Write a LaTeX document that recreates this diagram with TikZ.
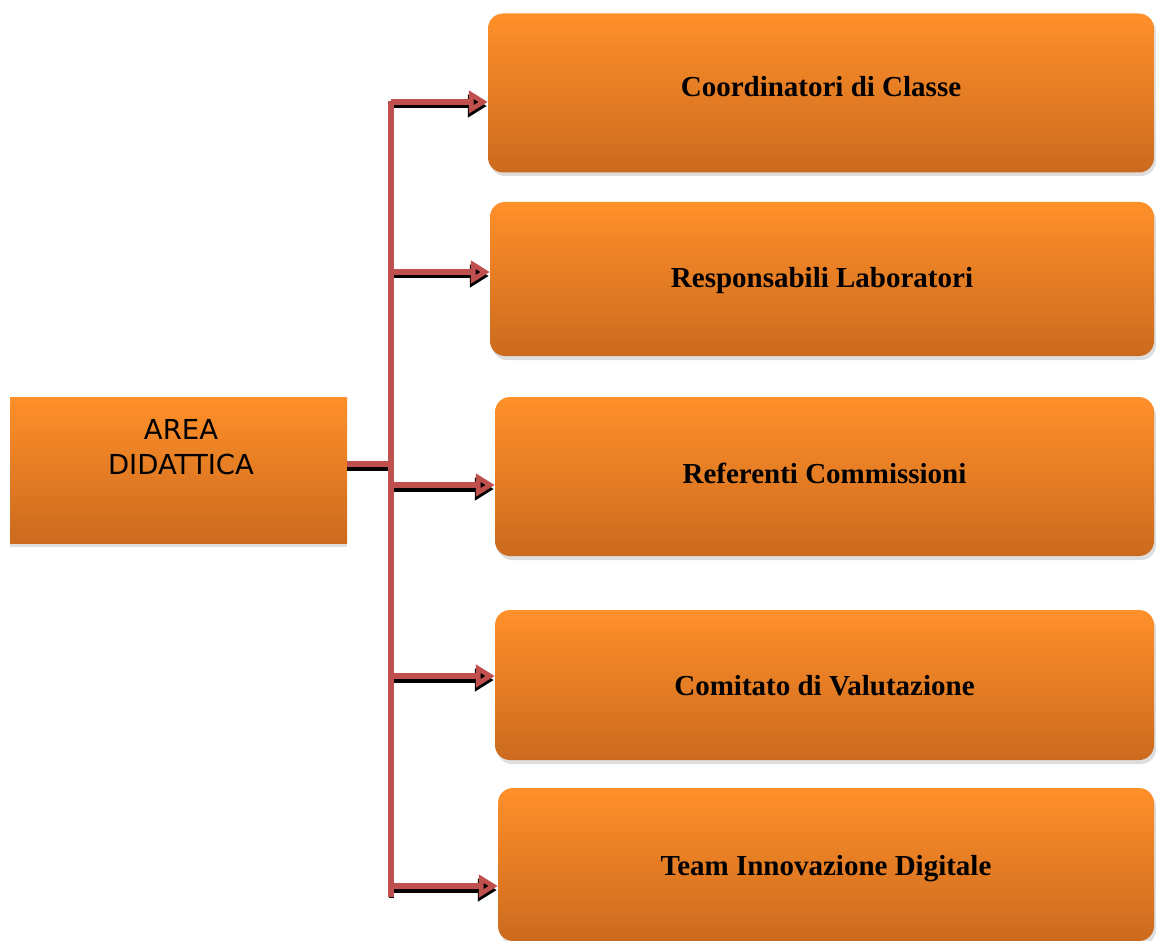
\documentclass[tikz,border=0pt]{standalone}
\usepackage{fontspec}
\setmainfont{Liberation Serif}
\newfontfamily\tahomalike{DejaVu Sans}
\usetikzlibrary{arrows.meta}
\definecolor{otop}{RGB}{255,144,42}
\definecolor{obot}{RGB}{203,106,30}
\definecolor{conn}{RGB}{192,80,77}
\newcommand{\boxtext}[2]{\raisebox{#1}[0pt][0pt]{#2}}
\tikzset{
  rbox/.style={rounded corners=15pt, top color=otop, bottom color=obot, draw=none,
    font=\fontsize{29}{34}\selectfont\bfseries, text=black, inner sep=0pt},
  lbox/.style={top color=otop, bottom color=obot, draw=none, inner sep=0pt},
  shad/.style={fill=black!13, draw=none},
  redline/.style={draw=conn, line width=5.5pt},
  blackline/.style={draw=black, line width=5pt},
  redarr/.style={draw=conn, line width=5.5pt, -{Triangle[open,length=19pt,width=22pt]}},
  blackarr/.style={draw=black, line width=5pt, -{Triangle[length=19pt,width=22pt]}},
}
\begin{document}
\begin{tikzpicture}[x=1pt,y=-1pt]
\useasboundingbox (0,0) rectangle (1156,941);
% shadows
\fill[shad, rounded corners=15pt] (490,17) rectangle (1156,176);
\fill[shad, rounded corners=15pt] (492,206) rectangle (1156,360);
\fill[shad, rounded corners=15pt] (497,401) rectangle (1156,560);
\fill[shad, rounded corners=15pt] (497,614) rectangle (1156,764);
\fill[shad, rounded corners=15pt] (500,792) rectangle (1156,945);
\fill[shad] (10,400) rectangle (347,547);
% boxes
\node[lbox, minimum width=337pt, minimum height=146pt] (a) at (178.5,470) {};
\node[font=\tahomalike\fontsize{27.5}{35}\selectfont, align=center, inner sep=0pt, anchor=base] (at) at (181,474) {AREA\\DIDATTICA};
\node[rbox, minimum width=666pt, minimum height=159pt] (b1) at (821,93) {\boxtext{-4pt}{Coordinatori di Classe}};
\node[rbox, minimum width=664pt, minimum height=154pt] (b2) at (822,279) {\boxtext{-9pt}{Responsabili Laboratori}};
\node[rbox, minimum width=659pt, minimum height=159pt] (b3) at (824.5,476.5) {\boxtext{-6.5pt}{Referenti Commissioni}};
\node[rbox, minimum width=659pt, minimum height=150pt] (b4) at (824.5,685) {\boxtext{-10pt}{Comitato di Valutazione}};
\node[rbox, minimum width=656pt, minimum height=153pt] (b5) at (826,864.5) {\boxtext{-10.5pt}{Team Innovazione Digitale}};
% connector coordinates
\coordinate (s) at (391,464);
\coordinate (ttop) at (391,104);
\coordinate (tbot) at (391,894);
\coordinate (t1) at (391,102);
\coordinate (t2) at (391,272);
\coordinate (t3) at (391,485);
\coordinate (t4) at (391,676);
\coordinate (t5) at (391,886);
% black shadows
\draw[blackline] ([yshift=-4pt]a.east |- s) -- ([yshift=-4pt]s);
\draw[blackline] ([yshift=-4pt]tbot) -- ++(0,-3);
\foreach \i in {1,...,5}{
  \draw[blackarr] ([yshift=-4pt]t\i) -- ([yshift=-4pt,xshift=-1pt]t\i -| b\i.west);
}
% red connectors
\draw[redline] (a.east |- s) -- (s);
\draw[redline, line cap=rect] (ttop) -- (tbot);
\foreach \i in {1,...,5}{
  \draw[redarr] (t\i) -- (t\i -| b\i.west);
}
\end{tikzpicture}
\end{document}
